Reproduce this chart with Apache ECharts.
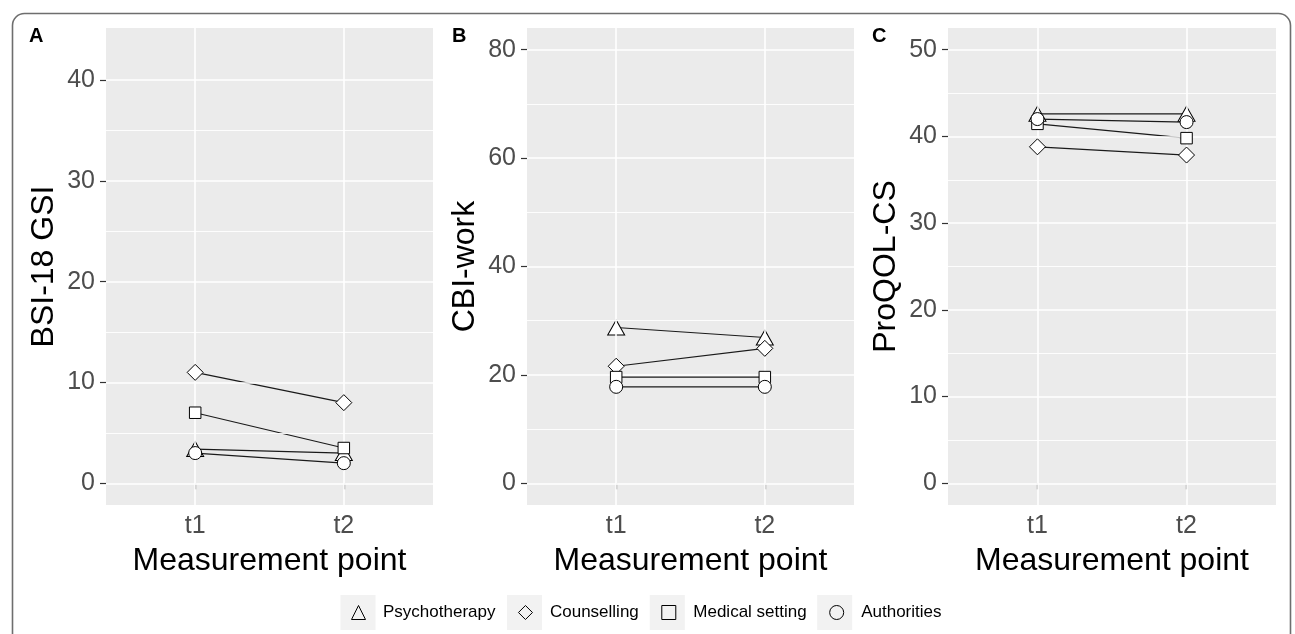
<!DOCTYPE html>
<html>
<head>
<meta charset="utf-8">
<script src="https://cdn.jsdelivr.net/npm/echarts@6/dist/echarts.min.js"></script>
<style>
html,body{margin:0;padding:0;background:#fff;}
#chart{width:1295px;height:634px;}
</style>
</head>
<body>
<div id="chart"></div>
<script>
// ---------- data ----------
const categories = ['t1', 't2'];
const groups = ['Psychotherapy', 'Counselling', 'Medical setting', 'Authorities'];
const groupSymbols = ['triangle', 'diamond', 'rect', 'circle'];
// values per group (Psychotherapy, Counselling, Medical setting, Authorities) at t1, t2
const bsiGsi   = [[3.4, 3.0], [11.0, 8.0], [7.0, 3.5], [3.0, 2.0]];
const cbiWork  = [[28.75, 26.9], [21.6, 24.9], [19.6, 19.6], [17.8, 17.8]];
const proqolCs = [[42.6, 42.6], [38.8, 37.85], [41.45, 39.8], [42.0, 41.65]];
const panelTitles = ['BSI-18 GSI', 'CBI-work', 'ProQOL-CS'];
const panelLetters = ['A', 'B', 'C'];
const yTicksA = [0, 10, 20, 30, 40];
const yTicksB = [0, 20, 40, 60, 80];
const yTicksC = [0, 10, 20, 30, 40, 50];
const yMinorA = [5, 15, 25, 35];
const yMinorB = [10, 30, 50, 70];
const yMinorC = [5, 15, 25, 35, 45];

// ---------- layout / styles ----------
const FONT = 'Liberation Sans';
const panels = [
  {vals: bsiGsi,   ticks: yTicksA, minor: yMinorA, min: -2.15, max: 45.15, left: 106, width: 327},
  {vals: cbiWork,  ticks: yTicksB, minor: yMinorB, min: -4,    max: 84,    left: 527, width: 327},
  {vals: proqolCs, ticks: yTicksC, minor: yMinorC, min: -2.5,  max: 52.5,  left: 948, width: 328}
];
const symbolSizes = [[17, 15], 16, 11.5, 13];

const grids = [], xAxes = [], yAxes = [], series = [], titles = [];
panels.forEach((p, i) => {
  grids.push({left: p.left, width: p.width, top: 28, height: 477, show: true,
    backgroundColor: '#ebebeb', borderWidth: 0, containLabel: false});
  xAxes.push({
    type: 'value', gridIndex: i, min: 0.4, max: 2.6,
    name: 'Measurement point', nameLocation: 'middle', nameGap: 40,
    nameTextStyle: {fontFamily: FONT, fontSize: 32, color: '#000'},
    axisLine: {show: false},
    axisTick: {show: true, length: 6, customValues: [1, 2], lineStyle: {color: '#333', width: 1.2}},
    axisLabel: {show: true, customValues: [1, 2], margin: 9, fontFamily: FONT, fontSize: 25, color: '#4d4d4d',
      formatter: v => categories[Math.round(v) - 1] || ''},
    splitLine: {show: false}
  });
  yAxes.push({
    type: 'value', gridIndex: i, min: p.min, max: p.max,
    name: panelTitles[i], nameLocation: 'middle', nameGap: 46,
    nameTextStyle: {fontFamily: FONT, fontSize: 32, color: '#000'},
    axisLine: {show: false},
    axisTick: {show: true, length: 6, customValues: p.ticks, lineStyle: {color: '#333', width: 1.2}},
    axisLabel: {show: true, customValues: p.ticks, margin: 11, fontFamily: FONT, fontSize: 25, color: '#4d4d4d'},
    splitLine: {show: false}
  });
  // grid lines via a background series
  const gl = [];
  p.minor.forEach(v => gl.push({yAxis: v, lineStyle: {width: 0.9}}));
  p.ticks.forEach(v => gl.push({yAxis: v, lineStyle: {width: 1.6}}));
  [1, 2].forEach(v => gl.push({xAxis: v, lineStyle: {width: 1.6}}));
  series.push({
    type: 'scatter', xAxisIndex: i, yAxisIndex: i, data: [], z: 1, silent: true,
    markLine: {silent: true, symbol: ['none', 'none'], label: {show: false}, animation: false,
      lineStyle: {color: '#ffffff', type: 'solid'}, data: gl}
  });
  // connecting lines
  groups.forEach((g, k) => {
    series.push({
      type: 'line', name: g + ' line', xAxisIndex: i, yAxisIndex: i, z: 3, silent: true,
      symbol: 'none', lineStyle: {color: '#1a1a1a', width: 1.2},
      data: p.vals[k].map((v, j) => [j + 1, v])
    });
  });
  // points
  groups.forEach((g, k) => {
    series.push({
      type: 'scatter', name: g, xAxisIndex: i, yAxisIndex: i, z: 4 + k,
      symbol: groupSymbols[k], symbolSize: symbolSizes[k],
      itemStyle: {color: '#ffffff', borderColor: '#000', borderWidth: 1, opacity: 1},
      data: p.vals[k].map((v, j) => [j + 1, v])
    });
  });
  titles.push({text: panelLetters[i], left: [29, 452, 872][i], top: 26, padding: 0,
    textStyle: {fontFamily: FONT, fontSize: 20, fontWeight: 'bold', color: '#000'}});
});

// ---------- legend layout ----------
const LFS = 17;
const ctx = document.createElement('canvas').getContext('2d');
ctx.font = LFS + 'px "' + FONT + '"';
const tw = groups.map(g => ctx.measureText(g).width);
const boxW = 35, boxH = 35, textGap = 7, itemSpace = 12, iconW = 14;
const total = 4 * boxW + tw.reduce((a, b) => a + b, 0) + 4 * textGap + 3 * itemSpace;
const start = 640 - total / 2;
const boxTop = 595;
const graphics = [];
let x = start;
groups.forEach((g, k) => {
  graphics.push({type: 'rect', left: x, top: boxTop, z: -1, silent: true,
    shape: {width: boxW, height: boxH}, style: {fill: '#f2f2f2'}});
  x += boxW + textGap + tw[k] + itemSpace;
});
graphics.push({type: 'rect', left: 10, top: 11, z: -2, silent: true,
  shape: {width: 1278, height: 660, r: 12}, style: {fill: 'none', stroke: '#6e6e6e', lineWidth: 1.6}});

const option = {
  animation: false,
  backgroundColor: '#ffffff',
  title: titles,
  grid: grids,
  xAxis: xAxes,
  yAxis: yAxes,
  legend: {
    data: groups, left: start + (boxW - iconW) / 2, top: boxTop + boxH / 2 - 8.5,
    orient: 'horizontal', padding: 0, itemWidth: iconW, itemHeight: iconW,
    itemGap: itemSpace + (boxW - iconW) / 2,
    itemStyle: {color: 'rgba(0,0,0,0)', borderColor: '#000', borderWidth: 1},
    textStyle: {fontFamily: FONT, fontSize: LFS, color: '#000',
      padding: [0, 0, 0, textGap + (boxW - iconW) / 2 - 5]},
    selectedMode: false
  },
  graphic: graphics,
  series: series
};
const chart = echarts.init(document.getElementById('chart'), null, {renderer: 'canvas'});
chart.setOption(option);
</script>
</body>
</html>
